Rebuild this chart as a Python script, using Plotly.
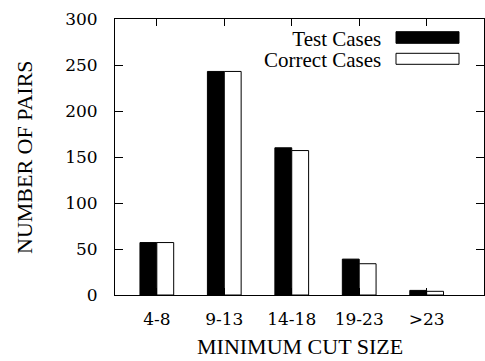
import plotly.graph_objects as go

categories = ["4-8", "9-13", "14-18", "19-23", ">23"]
test_cases = [57, 243, 160, 39, 5]
correct_cases = [57, 243, 157, 34, 4]
y_ticks = [0, 50, 100, 150, 200, 250, 300]
legend_labels = ["Test Cases", "Correct Cases"]

FONT_TICK = "DejaVu Serif"
FONT_A = "Times New Roman"
FONT_B = "Liberation Serif"
FS_TICK = 17
FS_TITLE = 22
FS_LEG = 21

W, H = 485, 361
L, R, T, B = 115, 1, 19, 66
PW, PH = W - L - R, H - T - B

def px(x):
    return (x - L) / PW

def py(y):
    return (H - B - y) / PH

xs = list(range(len(categories)))

fig = go.Figure()
fig.add_trace(go.Bar(x=xs, y=test_cases, width=0.25, offset=-0.25,
                     marker=dict(color="black", line=dict(color="black", width=1)),
                     name=legend_labels[0]))
fig.add_trace(go.Bar(x=xs, y=correct_cases, width=0.25, offset=0,
                     marker=dict(color="white", line=dict(color="black", width=1)),
                     name=legend_labels[1]))

fig.update_layout(
    width=W, height=H,
    margin=dict(l=L, r=R, t=T, b=B, pad=0),
    paper_bgcolor="white", plot_bgcolor="white",
    barmode="overlay", showlegend=False,
    font=dict(family="serif", size=FS_TICK, color="black"),
)
fig.update_xaxes(range=[-0.62, 4.85], tickmode="array", tickvals=xs, ticktext=categories,
                 ticks="inside", ticklen=7, tickcolor="black", showline=True, linecolor="black",
                 linewidth=1, mirror="ticks", showgrid=False, zeroline=False,
                 ticklabelstandoff=9, tickfont=dict(family=FONT_TICK, size=FS_TICK))
fig.update_yaxes(range=[0, 300], tickmode="array", tickvals=y_ticks,
                 ticks="inside", ticklen=8, tickcolor="black", showline=True, linecolor="black",
                 linewidth=1, mirror="ticks", showgrid=False, zeroline=False,
                 ticklabelstandoff=13, tickfont=dict(family=FONT_TICK, size=FS_TICK))

# axis titles
fig.add_annotation(text="MINIMUM CUT SIZE", xref="paper", yref="paper",
                   x=px(299.5), y=py(361), xanchor="center", yanchor="bottom",
                   showarrow=False, font=dict(family=FONT_A, size=FS_TITLE))
fig.add_annotation(text="NUMBER OF PAIRS", xref="paper", yref="paper",
                   x=px(24), y=py(157), xanchor="center", yanchor="middle", textangle=-90,
                   showarrow=False, font=dict(family=FONT_B, size=FS_TITLE))

# legend (drawn manually: text right-aligned, swatch on the right)
leg_text = "<br>".join(f'<span style="font-size:{FS_LEG}px">{t}</span>' for t in legend_labels)
fig.add_annotation(text=leg_text, xref="paper", yref="paper", x=px(383), y=py(49),
                   xanchor="right", yanchor="middle", align="right", showarrow=False,
                   font=dict(family=FONT_B, size=16))
for col, (y0, y1) in zip(["black", "white"], [(31.7, 43.3), (53.3, 64.3)]):
    fig.add_shape(type="rect", xref="paper", yref="paper",
                  x0=px(396), x1=px(459), y0=py(y1), y1=py(y0),
                  fillcolor=col, line=dict(color="black", width=1))

fig.write_html("out.html")
